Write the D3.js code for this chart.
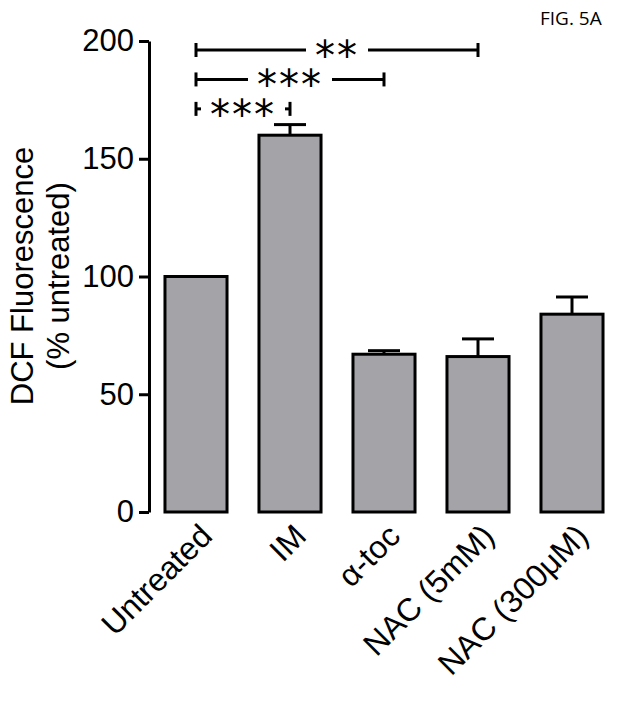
<!DOCTYPE html>
<html>
<head>
<meta charset="utf-8">
<script src="https://cdn.jsdelivr.net/npm/d3@7"></script>
<style>body{margin:0;background:#fff;}</style>
</head>
<body>
<div id="chart"></div>
<script>
const categories = ["Untreated", "IM", "\u03b1-toc", "NAC (5mM)", "NAC (300\u03bcM)"];
const means = [100, 160, 67, 66, 84];
const errors = [0, 4.5, 1.5, 7.5, 7.3];
const yTicks = [0, 50, 100, 150, 200];
// [from, to, label]
const comparisons = [[0, 3, "**"], [0, 2, "***"], [0, 1, "***"]];
const bracketValues = [200, 187.5, 175];

const width = 629, height = 701;
const svg = d3.select("#chart").append("svg")
    .attr("width", width).attr("height", height)
    .style("font-family", "Liberation Sans, Arial, sans-serif");

const x = d3.scaleBand().domain(d3.range(categories.length))
    .range([149, 619]).paddingInner(0.34).paddingOuter(0.17);
const y = d3.scaleLinear().domain([0, 200]).range([512, 41]);

// bars
svg.append("g").selectAll("rect").data(means).enter().append("rect")
    .attr("x", (d, i) => x(i))
    .attr("y", d => y(d))
    .attr("width", x.bandwidth())
    .attr("height", d => y(0) - y(d))
    .attr("fill", "#a4a4a8")
    .attr("stroke", "#000").attr("stroke-width", 3);

// error bars
const eb = svg.append("g").attr("stroke", "#000").attr("stroke-width", 3);
means.forEach((m, i) => {
    if (!errors[i]) return;
    const cx = x(i) + x.bandwidth() / 2;
    eb.append("line").attr("x1", cx).attr("x2", cx).attr("y1", y(m)).attr("y2", y(m + errors[i]));
    eb.append("line").attr("x1", cx - 16).attr("x2", cx + 16).attr("y1", y(m + errors[i])).attr("y2", y(m + errors[i]));
});

// y axis
const axis = svg.append("g").attr("transform", "translate(149,0)")
    .call(d3.axisLeft(y).tickValues(yTicks).tickSize(10).tickSizeOuter(0));
axis.select(".domain").attr("stroke-width", 3);
axis.selectAll(".tick line").attr("stroke-width", 3);
axis.selectAll(".tick text").attr("font-size", 31).attr("font-family", "Liberation Sans, Arial, sans-serif").attr("dx", -2);

// x labels
svg.append("g").selectAll("text").data(categories).enter().append("text")
    .attr("transform", (d, i) => `translate(${x(i) + x.bandwidth() / 2 + 18},${538}) rotate(-45)`)
    .attr("text-anchor", "end")
    .attr("font-size", 32)
    .text(d => d);

// y title
svg.append("text").attr("transform", "translate(33,276) rotate(-90)")
    .attr("text-anchor", "middle").attr("font-size", 31).text("DCF Fluorescence");
svg.append("text").attr("transform", "translate(69,276) rotate(-90)")
    .attr("text-anchor", "middle").attr("font-size", 31).text("(% untreated)");

// significance brackets
const br = svg.append("g");
comparisons.forEach((c, k) => {
    const x1 = x(c[0]) + x.bandwidth() / 2, x2 = x(c[1]) + x.bandwidth() / 2;
    const yy = y(bracketValues[k]) + 9;
    const mid = (x1 + x2) / 2;
    const half = c[2].length * 11 + 9;
    const g = br.append("g").attr("stroke", "#000").attr("stroke-width", 3);
    g.append("line").attr("x1", x1).attr("x2", mid - half).attr("y1", yy).attr("y2", yy);
    g.append("line").attr("x1", mid + half).attr("x2", x2).attr("y1", yy).attr("y2", yy);
    g.append("line").attr("x1", x1).attr("x2", x1).attr("y1", yy - 7).attr("y2", yy + 7);
    g.append("line").attr("x1", x2).attr("x2", x2).attr("y1", yy - 7).attr("y2", yy + 7);
    br.append("text").attr("x", mid).attr("y", yy + 20).attr("text-anchor", "middle")
        .attr("font-size", 40).attr("font-family", "DejaVu Sans, sans-serif")
        .attr("letter-spacing", 2).text(c[2]);
});

svg.append("text").attr("x", 540).attr("y", 25).attr("font-size", 19)
    .attr("font-family", "Open Sans, sans-serif").text("FIG. 5A");
</script>
</body>
</html>
